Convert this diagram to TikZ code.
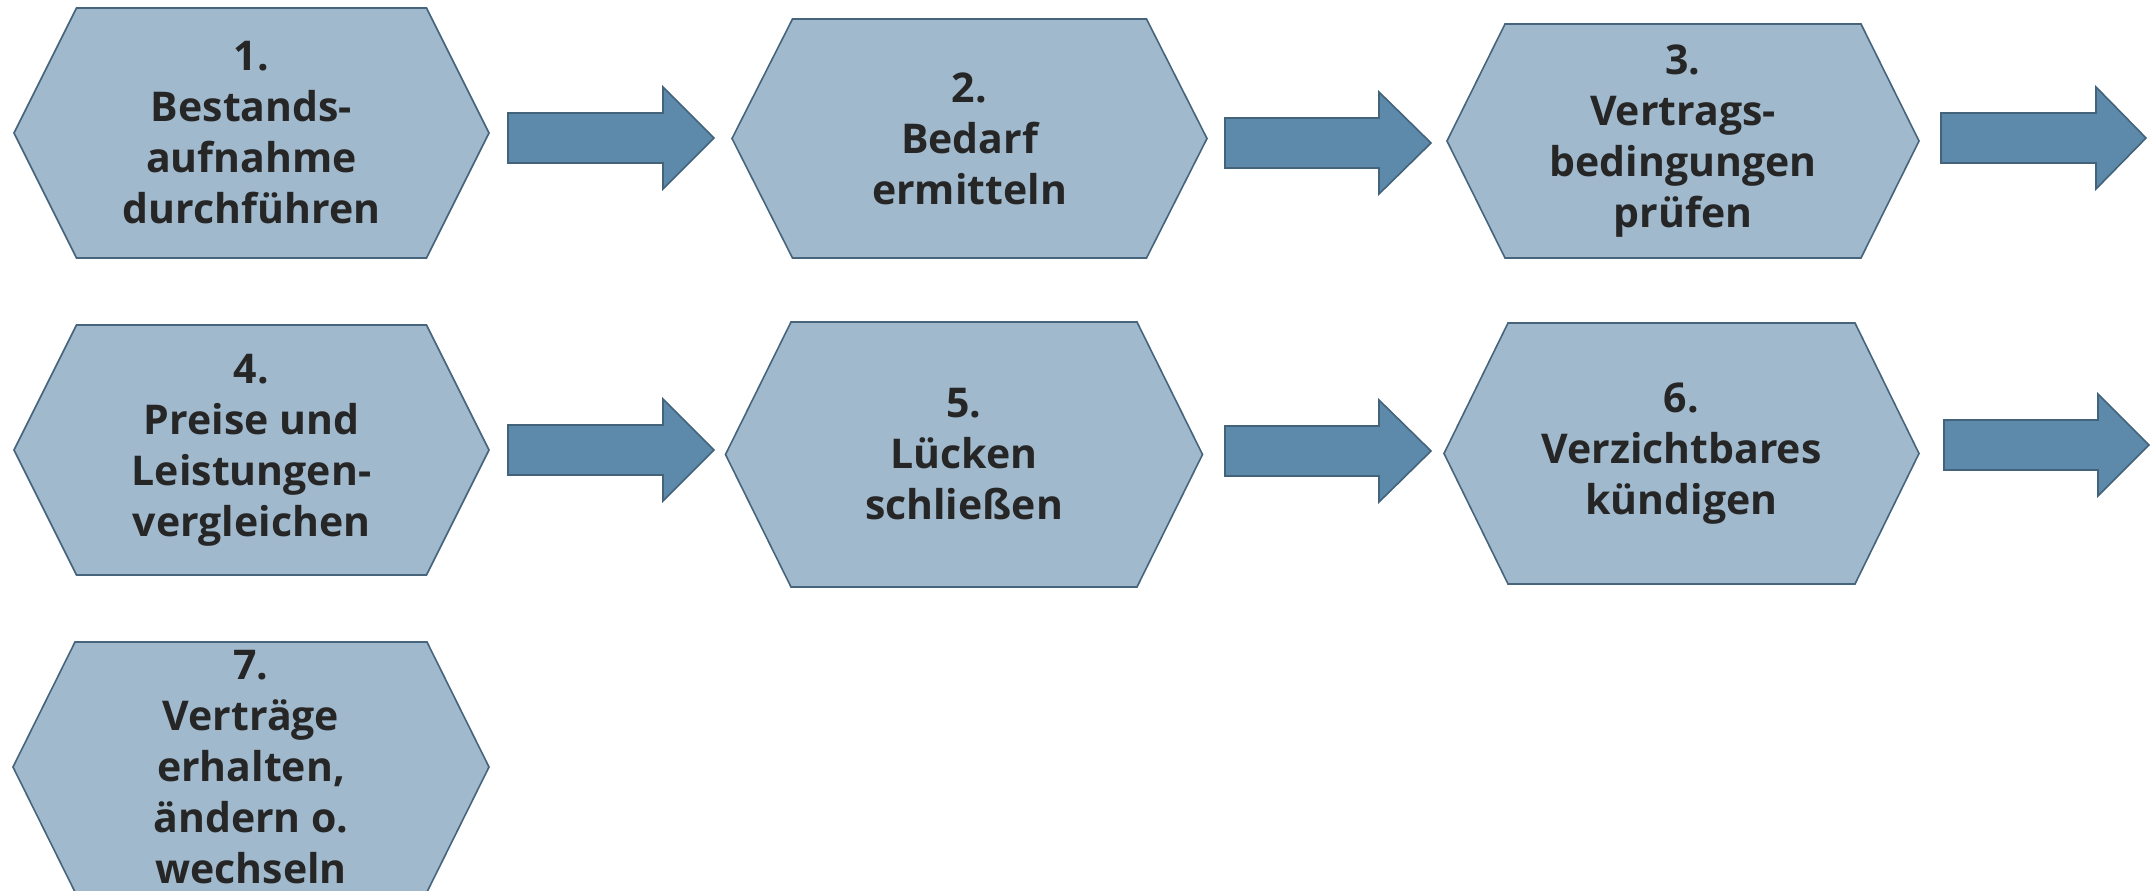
\documentclass[tikz,border=0pt]{standalone}
\usepackage{fontspec}
\setmainfont{Open Sans}
\definecolor{hexfill}{HTML}{A0B9CD}
\definecolor{hexline}{HTML}{46647C}
\definecolor{arrfill}{HTML}{5D8AAA}
\definecolor{arrline}{HTML}{43637B}
\definecolor{txt}{HTML}{262626}
\tikzset{
  hexshape/.style={fill=hexfill, draw=hexline, line width=1.6pt, line join=miter},
  arrowshape/.style={fill=arrfill, draw=arrline, line width=1.6pt, line join=miter},
  hextext/.style={align=center, text=txt, font=\fontsize{41}{51}\selectfont\bfseries, inner sep=0pt}
}
\newcommand\hexbox[7]{%
  \draw[hexshape] (#2-#4,#3) -- (#2-#5,#3-#6) -- (#2+#5,#3-#6) -- (#2+#4,#3) -- (#2+#5,#3+#6) -- (#2-#5,#3+#6) -- cycle;
  \node[hextext] (#1) at (#2,#3) {#7};
}
\newcommand\blockarrow[5]{%
  \draw[arrowshape] (#2,#5-25) -- (#3,#5-25) -- (#3,#5-51) -- (#4,#5) -- (#3,#5+51) -- (#3,#5+25) -- (#2,#5+25) -- cycle;
  \coordinate (#1) at (#4,#5);
}
\begin{document}
\begin{tikzpicture}[x=1pt,y=-1pt]
\useasboundingbox (0,0) rectangle (2153,891);
\clip (0,0) rectangle (2153,891);
\hexbox{h1}{251.5}{133}{237.5}{175}{125}{1.\\Bestands-\\aufnahme\\durchführen}
\hexbox{h2}{969.5}{138.5}{237.5}{177}{119.5}{2.\\Bedarf\\ermitteln}
\hexbox{h3}{1683}{141}{236}{178}{117}{3.\\Vertrags-\\bedingungen\\prüfen}
\hexbox{h4}{251.5}{450}{237.5}{175}{125}{4.\\Preise und\\Leistungen-\\vergleichen}
\hexbox{h5}{964}{454.5}{238.5}{173}{132.5}{5.\\Lücken\\schließen}
\hexbox{h6}{1681.5}{453.5}{237.5}{173.5}{130.5}{6.\\Verzichtbares\\kündigen}
\hexbox{h7}{251}{767}{238}{176}{125}{7.\\Verträge\\erhalten,\\ändern o.\\wechseln}
\blockarrow{a1}{508}{663}{714}{138}
\blockarrow{a2}{1225}{1379}{1431}{143}
\blockarrow{a3}{1941}{2096}{2146}{138}
\blockarrow{a4}{508}{663}{714}{450}
\blockarrow{a5}{1225}{1379}{1431}{451}
\blockarrow{a6}{1944}{2098}{2149}{445}
\end{tikzpicture}
\end{document}
